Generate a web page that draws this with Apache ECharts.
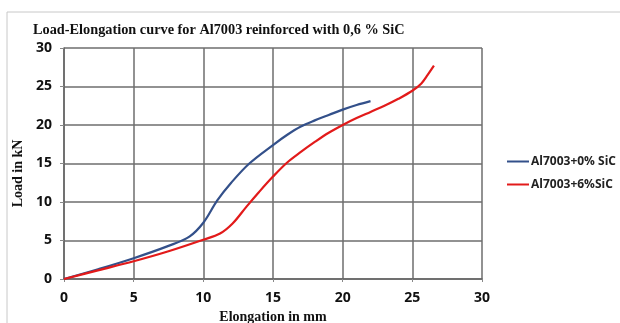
<!DOCTYPE html>
<html><head><meta charset="utf-8">
<script src="https://cdn.jsdelivr.net/npm/echarts@6/dist/echarts.min.js"></script>
<style>html,body{margin:0;padding:0;background:#fff;}#c{width:620px;height:323px;}</style>
</head><body><div id="c"></div>
<script>
const titleText = 'Load-Elongation curve for Al7003 reinforced with 0,6 % SiC';
const xName = 'Elongation in mm';
const yName = 'Load in kN';
const seriesNames = ['Al7003+0% SiC', 'Al7003+6%SiC'];
const blueX = [0, 2.5, 5, 7.5, 9, 10, 11, 12, 13.3, 15, 16, 17, 18, 19, 20, 21, 22];
const blueY = [0, 1.3, 2.7, 4.3, 5.5, 7.3, 10.2, 12.5, 15, 17.4, 18.7, 19.8, 20.6, 21.3, 22, 22.6, 23.1];
const redX = [0, 2.5, 5, 7.5, 10, 11.2, 12.1, 13.1, 14, 15, 16, 17, 18, 19, 20, 21, 22, 23, 24, 25, 25.65, 26.1, 26.55];
const redY = [0, 1.15, 2.3, 3.6, 5.1, 5.9, 7.2, 9.4, 11.3, 13.3, 15.1, 16.5, 17.8, 19, 20, 20.9, 21.7, 22.5, 23.4, 24.45, 25.4, 26.5, 27.7];

const chart = echarts.init(document.getElementById('c'), null, {renderer: 'canvas'});
const pair = (xs, ys) => xs.map((x, i) => [x, ys[i]]);
const serif = '"Liberation Serif", "Times New Roman", serif';
const sans = '"Open Sans", "Liberation Sans", sans-serif';
chart.setOption({
  animation: false,
  backgroundColor: '#fff',
  graphic: [{type: 'rect', shape: {x: 7, y: 12, width: 620, height: 330}, style: {fill: 'none', stroke: '#c8c8c8', lineWidth: 1}, silent: true}],
  title: {text: titleText, left: 28, top: 18, textStyle: {fontFamily: serif, fontWeight: 'bold', fontSize: 14.3, color: '#111'}},
  grid: {left: 64, right: 138, top: 48, bottom: 44, containLabel: false, outerBoundsMode: 'none'},
  legend: {
    orient: 'vertical', left: 507, top: 154, itemWidth: 22, itemHeight: 2, itemGap: 8, padding: 0,
    icon: 'rect',
    textStyle: {fontFamily: sans, fontWeight: 'bold', fontSize: 12, color: '#222', lineHeight: 15, padding: [0, 0, 0, -3]},
    data: seriesNames
  },
  xAxis: {
    type: 'value', min: 0, max: 30, interval: 5,
    name: xName, nameLocation: 'middle', nameGap: 31,
    nameTextStyle: {fontFamily: serif, fontWeight: 'bold', fontSize: 14, color: '#111'},
    axisLine: {show: true, lineStyle: {color: '#666', width: 1.5}},
    axisTick: {show: true, length: 3, lineStyle: {color: '#888'}},
    axisLabel: {fontFamily: sans, fontWeight: 'bold', fontSize: 14, color: '#111', margin: 12},
    splitLine: {show: true, lineStyle: {color: '#6e6e6e', width: 1.5}}
  },
  yAxis: {
    type: 'value', min: 0, max: 30, interval: 5,
    name: yName, nameLocation: 'middle', nameGap: 32,
    nameTextStyle: {fontFamily: serif, fontWeight: 'bold', fontSize: 14, color: '#111', padding: [0, 20, 0, 0]},
    axisLine: {show: true, lineStyle: {color: '#666', width: 1.5}},
    axisTick: {show: true, length: 4, lineStyle: {color: '#888'}},
    axisLabel: {fontFamily: sans, fontWeight: 'bold', fontSize: 14, color: '#111', margin: 12},
    splitLine: {show: true, lineStyle: {color: '#6e6e6e', width: 1.5}}
  },
  series: [
    {name: seriesNames[0], type: 'line', data: pair(blueX, blueY), smooth: 0.35, showSymbol: false,
     lineStyle: {color: '#33508a', width: 2.2}, itemStyle: {color: '#33508a'}},
    {name: seriesNames[1], type: 'line', data: pair(redX, redY), smooth: 0.35, showSymbol: false,
     lineStyle: {color: '#e21a1a', width: 2.2}, itemStyle: {color: '#e21a1a'}}
  ]
});
</script></body></html>
